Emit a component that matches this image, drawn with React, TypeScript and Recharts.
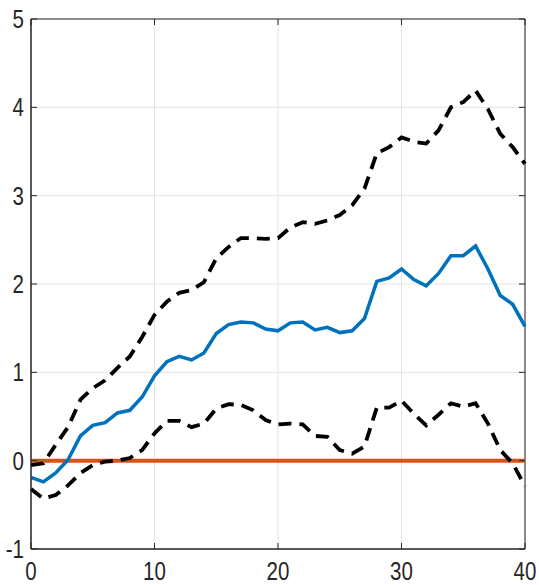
import { LineChart, Line, XAxis, YAxis, CartesianGrid, ReferenceArea } from 'recharts'

const horizon = [
  0, 1, 2, 3, 4, 5, 6, 7, 8, 9, 10, 11, 12, 13, 14, 15, 16, 17, 18, 19, 20,
  21, 22, 23, 24, 25, 26, 27, 28, 29, 30, 31, 32, 33, 34, 35, 36, 37, 38, 39, 40
]

const median = [
  -0.19, -0.24, -0.14, 0.01, 0.28, 0.4, 0.43, 0.54, 0.57, 0.72, 0.96, 1.12, 1.18, 1.14, 1.22, 1.44, 1.54, 1.57, 1.56, 1.49, 1.47,
  1.56, 1.57, 1.48, 1.51, 1.45, 1.47, 1.61, 2.03, 2.07, 2.17, 2.05, 1.98, 2.12, 2.32, 2.32, 2.43, 2.17, 1.87, 1.77, 1.52
]

const upper = [
  -0.05, -0.03, 0.18, 0.38, 0.69, 0.82, 0.91, 1.05, 1.18, 1.4, 1.65, 1.8, 1.9, 1.93, 2.02, 2.29, 2.42, 2.52, 2.52, 2.51, 2.52,
  2.64, 2.7, 2.68, 2.72, 2.78, 2.89, 3.08, 3.48, 3.55, 3.66, 3.61, 3.59, 3.74, 4.0, 4.06, 4.19, 3.98, 3.7, 3.55, 3.36
]

const lower = [
  -0.32, -0.43, -0.39, -0.28, -0.14, -0.05, -0.01, 0.0, 0.03, 0.12, 0.31, 0.45, 0.45, 0.38, 0.42, 0.59, 0.64, 0.63, 0.57, 0.46, 0.41,
  0.42, 0.41, 0.28, 0.27, 0.12, 0.08, 0.16, 0.6, 0.6, 0.68, 0.53, 0.4, 0.52, 0.65, 0.61, 0.65, 0.42, 0.12, -0.03, -0.29
]

const xTicks = [0, 10, 20, 30, 40]
const yTicks = [-1, 0, 1, 2, 3, 4, 5]

const data = horizon.map((h, i) => ({
  h,
  zero: 0,
  median: median[i],
  upper: upper[i],
  lower: lower[i]
}))

const W = 539
const H = 585
const PL = 31
const PR = 525
const PT = 19
const PB = 549
const FONT = '"Liberation Sans", Arial, sans-serif'
const AX = '#262626'

// MATLAB-style labels look condensed, so squeeze them sideways
function Label({ x, y, anchor, value }: any) {
  return (
    <text
      transform={`translate(${x},${y}) scale(0.82,1)`}
      textAnchor={anchor}
      fontSize={25}
      fontFamily={FONT}
      fill={AX}
    >
      {value}
    </text>
  )
}

function YTick({ y, payload }: any) {
  return (
    <g>
      <line x1={PL} x2={PL + 6} y1={y} y2={y} stroke={AX} strokeWidth={1} />
      <line x1={PR - 6} x2={PR} y1={y} y2={y} stroke={AX} strokeWidth={1} />
      <Label x={24} y={y + 9} anchor="end" value={payload.value} />
    </g>
  )
}

function XTick({ x, payload }: any) {
  return (
    <g>
      <line x1={x} x2={x} y1={PB - 6} y2={PB} stroke={AX} strokeWidth={1} />
      <line x1={x} x2={x} y1={PT} y2={PT + 6} stroke={AX} strokeWidth={1} />
      <Label x={x} y={580} anchor="middle" value={payload.value} />
    </g>
  )
}

export default function App() {
  return (
    <div style={{ position: 'absolute', left: 0, top: 0, background: '#fff' }}>
      <LineChart width={W} height={H} data={data} margin={{ top: PT, right: W - PR, left: 0, bottom: 0 }}>
        <CartesianGrid stroke="#e3e3e3" strokeWidth={1} />
        <XAxis
          dataKey="h"
          type="number"
          domain={[0, 40]}
          ticks={xTicks}
          height={H - PB}
          tickLine={false}
          axisLine={{ stroke: AX }}
          tick={<XTick />}
          interval={0}
        />
        <YAxis
          type="number"
          domain={[-1, 5]}
          ticks={yTicks}
          width={PL}
          tickLine={false}
          axisLine={{ stroke: AX }}
          tick={<YTick />}
          interval={0}
        />
        <ReferenceArea x1={0} x2={40} y1={-1} y2={5} fill="none" stroke={AX} strokeWidth={1} ifOverflow="visible" />
        <Line dataKey="zero" stroke="#D95319" strokeWidth={4} dot={false} isAnimationActive={false} />
        <Line dataKey="median" stroke="#0072BD" strokeWidth={3.5} dot={false} isAnimationActive={false} />
        <Line dataKey="upper" stroke="#000" strokeWidth={3.8} strokeDasharray="13 8" dot={false} isAnimationActive={false} />
        <Line dataKey="lower" stroke="#000" strokeWidth={3.8} strokeDasharray="13 8" dot={false} isAnimationActive={false} />
      </LineChart>
    </div>
  )
}
